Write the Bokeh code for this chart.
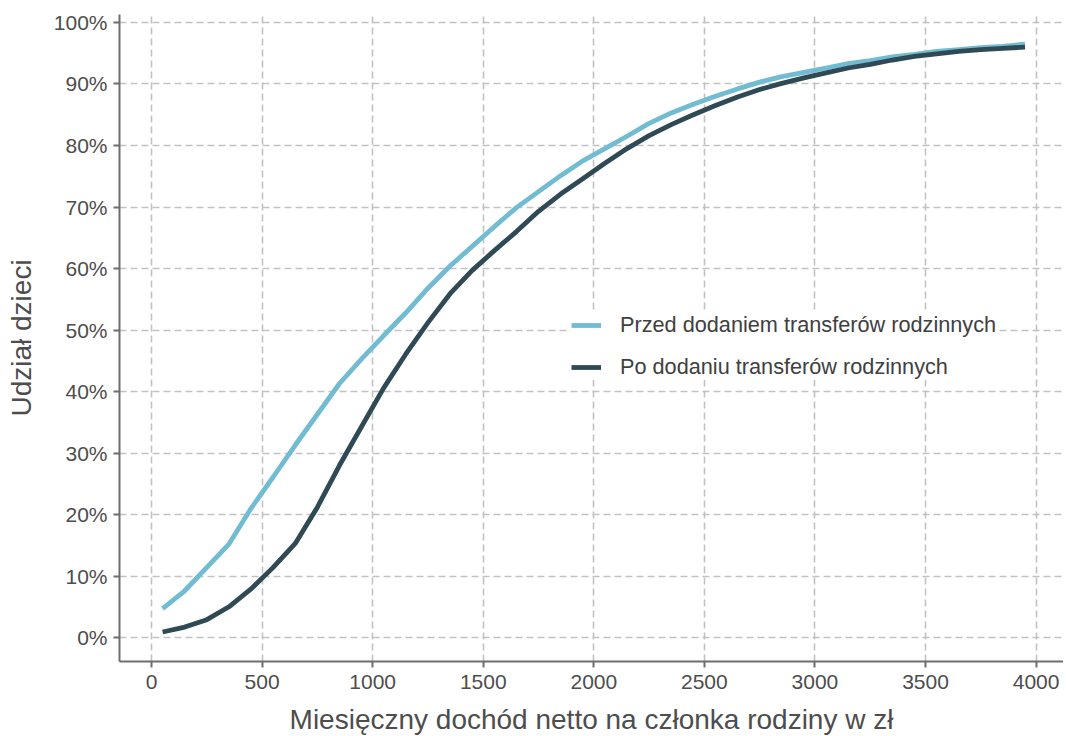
from bokeh.plotting import figure
from bokeh.models import FixedTicker, PrintfTickFormatter, Range1d, Legend, LegendItem
from bokeh.embed import file_html
from bokeh.resources import INLINE

# ---- data ----
income = [50, 150, 250, 350, 450, 550, 650, 750, 850, 950,
          1050, 1150, 1250, 1350, 1450, 1550, 1650, 1750, 1850, 1950,
          2050, 2150, 2250, 2350, 2450, 2550, 2650, 2750, 2850, 2950,
          3050, 3150, 3250, 3350, 3450, 3550, 3650, 3750, 3850, 3950]
przed = [4.7, 7.6, 11.4, 15.2, 21.0, 26.1, 31.3, 36.3, 41.3, 45.3,
         49.1, 52.8, 56.8, 60.4, 63.6, 66.8, 69.9, 72.5, 75.1, 77.5,
         79.5, 81.5, 83.6, 85.3, 86.7, 88.0, 89.2, 90.3, 91.2, 91.9,
         92.6, 93.3, 93.8, 94.4, 94.8, 95.3, 95.6, 95.9, 96.1, 96.5]
po = [0.9, 1.7, 2.9, 5.0, 7.9, 11.4, 15.3, 21.2, 28.0, 34.3,
      40.6, 46.1, 51.2, 55.9, 59.7, 62.9, 66.0, 69.3, 72.1, 74.6,
      77.1, 79.5, 81.6, 83.4, 85.0, 86.5, 87.9, 89.1, 90.1, 91.0,
      91.8, 92.6, 93.2, 93.9, 94.5, 94.9, 95.3, 95.6, 95.8, 96.0]
x_ticks = [0, 500, 1000, 1500, 2000, 2500, 3000, 3500, 4000]
y_ticks = [0, 10, 20, 30, 40, 50, 60, 70, 80, 90, 100]
label_przed = "Przed dodaniem transferów rodzinnych"
label_po = "Po dodaniu transferów rodzinnych"
x_title = "Miesięczny dochód netto na członka rodziny w zł"
y_title = "Udział dzieci"

FONT = "Liberation Sans"
TXT = "#4D4D4D"
AX = "#6E6E6E"
LIGHT = "#72BCD3"
DARK = "#2F4A54"

p = figure(frame_width=944, frame_height=647,
           x_range=Range1d(-145, 4124), y_range=Range1d(-3.9, 101.3),
           output_backend="svg", toolbar_location=None,
           min_border_left=119, min_border_top=14, min_border_right=0,
           min_border_bottom=0, outline_line_color=None,
           background_fill_color="white", border_fill_color="white")

l1 = p.line(income, przed, line_color=LIGHT, line_width=4.8)
l2 = p.line(income, po, line_color=DARK, line_width=4.8)

for ax in (p.xaxis[0], p.yaxis[0]):
    ax.axis_line_color = AX
    ax.axis_line_width = 2
    ax.major_tick_line_color = AX
    ax.major_tick_line_width = 2
    ax.major_tick_out = 6
    ax.major_tick_in = 0
    ax.minor_tick_line_color = None
    ax.major_label_text_font = FONT
    ax.major_label_text_font_size = "21px"
    ax.major_label_text_color = TXT
    ax.axis_label_text_font = FONT
    ax.axis_label_text_font_size = "28px"
    ax.axis_label_text_font_style = "normal"
    ax.axis_label_text_color = TXT

p.xaxis[0].ticker = FixedTicker(ticks=x_ticks)
p.yaxis[0].ticker = FixedTicker(ticks=y_ticks)
p.yaxis[0].formatter = PrintfTickFormatter(format="%d%%")
p.xaxis[0].axis_label = x_title
p.yaxis[0].axis_label = y_title
p.xaxis[0].major_label_standoff = 7
p.yaxis[0].major_label_standoff = 6
p.xaxis[0].axis_label_standoff = 12
p.yaxis[0].axis_label_standoff = 14

for g in (p.xgrid[0], p.ygrid[0]):
    g.grid_line_color = "#C2C2C2"
    g.grid_line_width = 1.6
    g.grid_line_dash = "7 4"
p.xgrid[0].ticker = FixedTicker(ticks=x_ticks)
p.ygrid[0].ticker = FixedTicker(ticks=y_ticks)

legend = Legend(items=[LegendItem(label=label_przed, renderers=[l1]),
                       LegendItem(label=label_po, renderers=[l2])],
                location=(452, 281),
                label_text_font=FONT, label_text_font_size="21.7px",
                label_text_color="#404040",
                glyph_width=30, glyph_height=20, label_height=20,
                spacing=16, padding=5, margin=0, label_standoff=19,
                border_line_color=None, background_fill_color="white",
                background_fill_alpha=1.0)
p.add_layout(legend)

open("out.html", "w").write(file_html(p, INLINE))
